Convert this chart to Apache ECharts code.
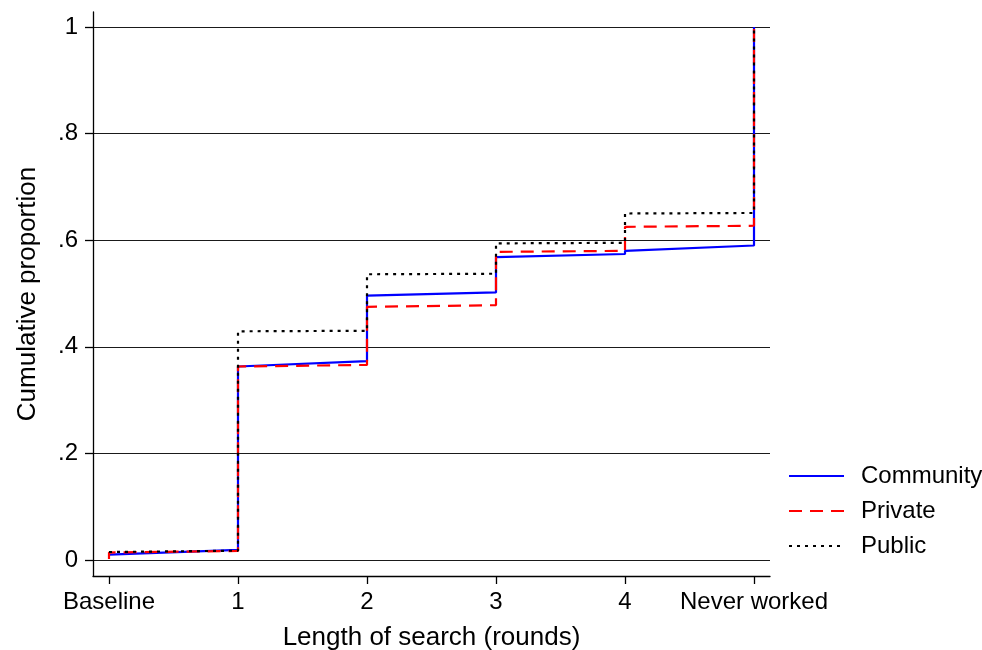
<!DOCTYPE html>
<html>
<head>
<meta charset="utf-8">
<title>Cumulative proportion by length of search</title>
<script src="https://cdn.jsdelivr.net/npm/echarts@6/dist/echarts.min.js"></script>
<style>
  html, body { margin: 0; padding: 0; background: #ffffff; }
  #chart { width: 982px; height: 650px; }
</style>
</head>
<body>
<div id="chart"></div>
<script>
// Round positions on the x axis: 0 = Baseline, 5 = Never worked
const xTickValues = [0, 1, 2, 3, 4, 5];
const xTickLabels = ['Baseline', '1', '2', '3', '4', 'Never worked'];
const yTickValues = [0, 0.2, 0.4, 0.6, 0.8, 1];

// Cumulative proportion, [round, proportion] pairs (vertical jumps at each round)
const community = [
  [0, 0.010], [1, 0.019], [1, 0.363], [2, 0.373], [2, 0.496], [3, 0.502],
  [3, 0.568], [4, 0.574], [4, 0.580], [5, 0.590], [5, 1.0]
];
const privateSector = [
  [0, 0.002], [0, 0.014], [1, 0.017], [1, 0.363], [2, 0.366], [2, 0.475],
  [3, 0.478], [3, 0.578], [4, 0.580], [4, 0.625], [5, 0.627], [5, 1.0]
];
const publicSector = [
  [0, 0.015], [1, 0.0175], [1, 0.429], [2, 0.430], [2, 0.536], [3, 0.537],
  [3, 0.594], [4, 0.595], [4, 0.650], [5, 0.651], [5, 1.0]
];

const FONT = '"Liberation Sans", Arial, Helvetica, sans-serif';

function yLabel(v) {
  if (Math.abs(v) < 1e-9) return '0';
  if (Math.abs(v - 1) < 1e-9) return '1';
  return String(Math.round(v * 10) / 10).replace(/^0/, '');
}

const chart = echarts.init(document.getElementById('chart'), null, { renderer: 'canvas' });

chart.setOption({
  backgroundColor: '#ffffff',
  animation: false,
  grid: { left: 93, right: 212, top: 12, bottom: 74, containLabel: false, outerBoundsMode: 'none' },
  legend: {
    orient: 'vertical',
    left: 788,
    top: 464,
    padding: 0,
    itemWidth: 55,
    itemHeight: 24,
    itemGap: 11,
    itemStyle: { opacity: 0 },
    textStyle: { fontFamily: FONT, fontSize: 24, color: '#000000', padding: [0, 0, 0, 12] },
    data: ['Community', 'Private', 'Public']
  },
  xAxis: {
    type: 'value',
    min: -0.124,
    max: 5.124,
    name: 'Length of search (rounds)',
    nameLocation: 'middle',
    nameGap: 49,
    nameTextStyle: { fontFamily: FONT, fontSize: 26, color: '#000000' },
    axisLine: { show: true, onZero: false, lineStyle: { color: '#000000', width: 1.3 } },
    axisTick: { show: true, length: 8, customValues: xTickValues, lineStyle: { color: '#000000', width: 1.3 } },
    axisLabel: {
      margin: 14,
      customValues: xTickValues,
      fontFamily: FONT, fontSize: 24, color: '#000000',
      formatter: v => xTickLabels[Math.round(v)]
    },
    splitLine: { show: false }
  },
  yAxis: {
    type: 'value',
    min: -0.03,
    max: 1.028,
    name: 'Cumulative proportion',
    nameLocation: 'middle',
    nameGap: 52,
    nameTextStyle: { fontFamily: FONT, fontSize: 26, color: '#000000' },
    axisLine: { show: true, onZero: false, lineStyle: { color: '#000000', width: 1.3 } },
    axisTick: { show: true, length: 8, customValues: yTickValues, lineStyle: { color: '#000000', width: 1.3 } },
    axisLabel: {
      margin: 15,
      customValues: yTickValues,
      fontFamily: FONT, fontSize: 24, color: '#000000',
      formatter: yLabel
    },
    splitLine: { show: true, lineStyle: { color: '#1a1a1a', width: 1.1 } }
  },
  series: [
    {
      name: 'Community',
      type: 'line',
      data: community,
      symbol: 'none',
      showSymbol: false,
      lineStyle: { color: '#0000ff', width: 2.2, type: 'solid' },
      itemStyle: { color: '#0000ff' },
      z: 3
    },
    {
      name: 'Private',
      type: 'line',
      data: privateSector,
      symbol: 'none',
      showSymbol: false,
      lineStyle: { color: '#ff0000', width: 2.2, type: [13, 8] },
      itemStyle: { color: '#ff0000' },
      z: 4
    },
    {
      name: 'Public',
      type: 'line',
      data: publicSector,
      symbol: 'none',
      showSymbol: false,
      lineStyle: { color: '#000000', width: 2.2, type: [3, 5] },
      itemStyle: { color: '#000000' },
      z: 5
    }
  ]
});
</script>
</body>
</html>
